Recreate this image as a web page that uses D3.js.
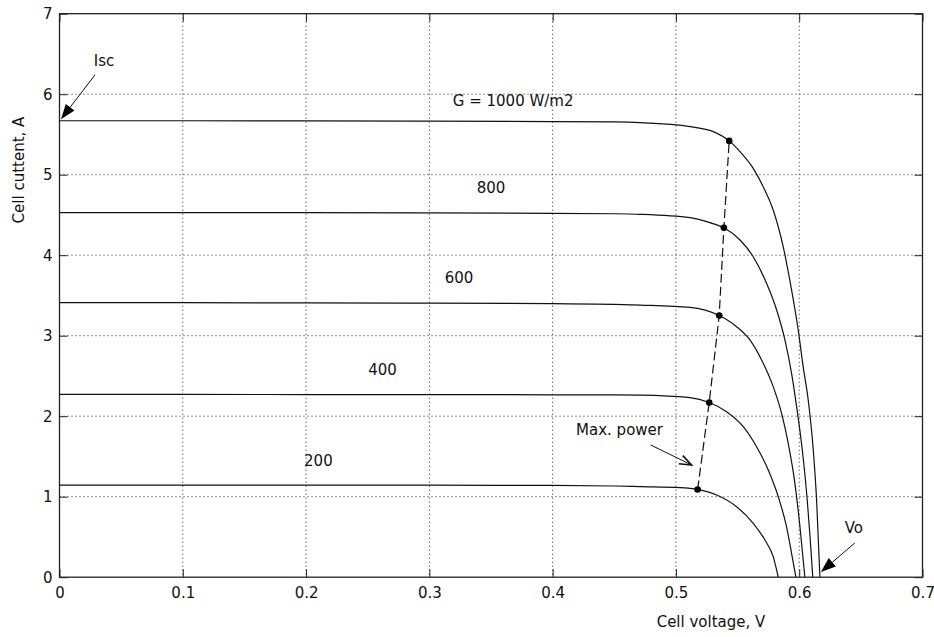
<!DOCTYPE html>
<html>
<head>
<meta charset="utf-8">
<script src="https://cdn.jsdelivr.net/npm/d3@7"></script>
<style>
  body { margin: 0; background: #fff; }
  text { font-family: "DejaVu Sans", sans-serif; font-size: 15px; fill: #111; }
</style>
</head>
<body>
<div id="chart"></div>
<script>
// I-V curves of a PV cell at different irradiance
const levels = ['200', '400', '600', '800', '1000'];

const v200  = [0, 0.1, 0.2, 0.3, 0.4, 0.45, 0.471, 0.5032, 0.5176, 0.533, 0.5492, 0.5627, 0.5722, 0.5789, 0.583];
const i200  = [1.145, 1.145, 1.144, 1.143, 1.14, 1.133, 1.125, 1.112, 1.09, 1.021, 0.876, 0.67, 0.462, 0.255, 0];

const v400  = [0, 0.1, 0.2, 0.3, 0.4, 0.45, 0.471, 0.5114, 0.527, 0.5411, 0.5546, 0.5654, 0.5749, 0.583, 0.5897, 0.5938, 0.5973];
const i400  = [2.27, 2.27, 2.269, 2.268, 2.266, 2.264, 2.261, 2.23, 2.17, 2.056, 1.87, 1.621, 1.332, 1.0, 0.627, 0.297, 0];

const v600  = [0, 0.1, 0.2, 0.3, 0.4, 0.45, 0.471, 0.5114, 0.5351, 0.5492, 0.56, 0.5708, 0.5789, 0.5857, 0.5911, 0.5965, 0.6006, 0.6046];
const i600  = [3.41, 3.41, 3.408, 3.405, 3.398, 3.39, 3.381, 3.352, 3.25, 3.112, 2.947, 2.657, 2.367, 2.036, 1.663, 1.166, 0.627, 0];

const v800  = [0, 0.1, 0.2, 0.3, 0.4, 0.45, 0.471, 0.5114, 0.5276, 0.5389, 0.552, 0.5627, 0.5735, 0.5817, 0.5884, 0.5938, 0.5979, 0.6025, 0.6065, 0.6088, 0.611];
const i800  = [4.53, 4.53, 4.528, 4.525, 4.52, 4.515, 4.508, 4.466, 4.404, 4.34, 4.189, 3.981, 3.651, 3.319, 2.947, 2.533, 2.118, 1.58, 0.959, 0.5, 0];

const v1000 = [0, 0.1, 0.2, 0.3, 0.4, 0.45, 0.471, 0.5114, 0.5303, 0.5432, 0.552, 0.5627, 0.5708, 0.5789, 0.587, 0.5938, 0.5992, 0.6032, 0.6073, 0.6114, 0.6141, 0.6168];
const i1000 = [5.67, 5.67, 5.668, 5.665, 5.66, 5.655, 5.646, 5.597, 5.535, 5.42, 5.286, 5.079, 4.851, 4.561, 4.106, 3.568, 3.071, 2.615, 2.201, 1.58, 0.959, 0];

// maximum power points
const mppV = [0.5176, 0.527, 0.5351, 0.5389, 0.5432];
const mppI = [1.09, 2.17, 3.25, 4.34, 5.42];

const xTicks = [0, 0.1, 0.2, 0.3, 0.4, 0.5, 0.6, 0.7];
const yTicks = [0, 1, 2, 3, 4, 5, 6, 7];

// curve labels: text, V, I (data units)
const curveLabels = [
    ['G = 1000 W/m2', 0.319, 5.853, 'start'],
    ['800', 0.35, 4.77, 'middle'],
    ['600', 0.324, 3.655, 'middle'],
    ['400', 0.262, 2.51, 'middle'],
    ['200', 0.21, 1.38, 'middle']
];

// arrows: label, label pos, arrow start, arrow tip, filled head
const arrows = [
    { text: 'Isc', tx: 0.0361, ty: 6.35, anchor: 'middle', from: [0.0288, 6.24], to: [0.0012, 5.69], filled: true },
    { text: 'Max. power', tx: 0.419, ty: 1.766, anchor: 'start', from: [0.4795, 1.643], to: [0.5127, 1.394], filled: false },
    { text: 'Vo', tx: 0.6443, ty: 0.55, anchor: 'middle', from: [0.6451, 0.425], to: [0.6176, 0.065], filled: true }
];

const series = [
    _zip(v200, i200), _zip(v400, i400), _zip(v600, i600), _zip(v800, i800), _zip(v1000, i1000)
];

function _zip(vs, is) {
    return vs.map((v, k) => ({ v: v, i: is[k] }));
}

const outerWidth = 934, outerHeight = 637;
const margin = { top: 13.7, left: 59.5, right: 11.5, bottom: 59.8 };
const width = outerWidth - margin.left - margin.right;
const height = outerHeight - margin.top - margin.bottom;

const svg = d3.select('#chart').append('svg')
    .attr('width', outerWidth)
    .attr('height', outerHeight);

const g = svg.append('g')
    .attr('transform', `translate(${margin.left}, ${margin.top})`);

const x = d3.scaleLinear().domain([0, 0.7]).range([0, width]);
const y = d3.scaleLinear().domain([0, 7]).range([height, 0]);

// dotted grid
g.append('g')
    .attr('class', 'grid')
    .selectAll('line.gx')
    .data(xTicks.slice(1, -1))
    .join('line')
    .attr('x1', d => x(d)).attr('x2', d => x(d))
    .attr('y1', 0).attr('y2', height);

g.select('.grid')
    .selectAll('line.gy')
    .data(yTicks.slice(1, -1))
    .join(enter => enter.append('line'))
    .attr('x1', 0).attr('x2', width)
    .attr('y1', d => y(d)).attr('y2', d => y(d));

g.selectAll('.grid line')
    .attr('stroke', '#222')
    .attr('stroke-width', 1)
    .attr('stroke-dasharray', '1,3');

// axes with inward ticks on all four sides
const fmt = d3.format('');
const gx = g.append('g').attr('transform', `translate(0, ${height})`)
    .call(d3.axisBottom(x).tickValues(xTicks).tickFormat(d => d === 0 ? '0' : fmt(d)).tickSizeInner(-8).tickSizeOuter(0).tickPadding(10));
const gy = g.append('g')
    .call(d3.axisLeft(y).tickValues(yTicks).tickFormat(d3.format('d')).tickSizeInner(-8).tickSizeOuter(0).tickPadding(7));
const gt = g.append('g')
    .call(d3.axisTop(x).tickValues(xTicks).tickFormat('').tickSizeInner(-8).tickSizeOuter(0));
const gr = g.append('g').attr('transform', `translate(${width}, 0)`)
    .call(d3.axisRight(y).tickValues(yTicks).tickFormat('').tickSizeInner(-8).tickSizeOuter(0));

[gx, gy, gt, gr].forEach(a => {
    a.select('.domain').remove();
    a.selectAll('line').attr('stroke', '#222');
    a.selectAll('text').attr('font-size', 15).attr('font-family', '"DejaVu Sans", sans-serif').attr('fill', '#111');
});

g.append('rect')
    .attr('x', 0).attr('y', 0)
    .attr('width', width).attr('height', height)
    .attr('fill', 'none')
    .attr('stroke', '#222')
    .attr('stroke-width', 1.3);

// the I-V curves
const line = d3.line()
    .x(d => x(d.v))
    .y(d => y(d.i))
    .curve(d3.curveMonotoneX);

g.append('g')
    .selectAll('path')
    .data(series)
    .join('path')
    .attr('d', line)
    .attr('fill', 'none')
    .attr('stroke', '#111')
    .attr('stroke-width', 1.2);

// max power locus
const mpp = mppV.map((v, k) => ({ v: v, i: mppI[k] }));

g.append('path')
    .datum(mpp)
    .attr('d', d3.line().x(d => x(d.v)).y(d => y(d.i)))
    .attr('fill', 'none')
    .attr('stroke', '#111')
    .attr('stroke-width', 1.2)
    .attr('stroke-dasharray', '9,4');

g.append('g')
    .selectAll('circle')
    .data(mpp)
    .join('circle')
    .attr('cx', d => x(d.v))
    .attr('cy', d => y(d.i))
    .attr('r', 3.3)
    .attr('fill', '#000');

// labels for the irradiance levels
g.append('g')
    .selectAll('text')
    .data(curveLabels)
    .join('text')
    .attr('x', d => x(d[1]))
    .attr('y', d => y(d[2]))
    .attr('text-anchor', d => d[3])
    .text(d => d[0]);

// annotation arrows
arrows.forEach(a => {
    let x0 = x(a.from[0]), y0 = y(a.from[1]);
    let x1 = x(a.to[0]), y1 = y(a.to[1]);
    let ang = Math.atan2(y1 - y0, x1 - x0);
    let len = a.filled ? 15 : 12;
    let half = a.filled ? 5.5 : 4.5;
    let bx = x1 - len * Math.cos(ang), by = y1 - len * Math.sin(ang);
    let px = -Math.sin(ang) * half, py = Math.cos(ang) * half;

    g.append('line')
        .attr('x1', x0).attr('y1', y0)
        .attr('x2', a.filled ? bx : x1).attr('y2', a.filled ? by : y1)
        .attr('stroke', '#111')
        .attr('stroke-width', 1);

    if (a.filled) {
        g.append('path')
            .attr('d', `M${x1},${y1}L${bx + px},${by + py}L${bx - px},${by - py}Z`)
            .attr('fill', '#000');
    } else {
        g.append('path')
            .attr('d', `M${bx + px},${by + py}L${x1},${y1}L${bx - px},${by - py}`)
            .attr('fill', 'none')
            .attr('stroke', '#111')
            .attr('stroke-width', 1.6);
    }

    g.append('text')
        .attr('x', x(a.tx))
        .attr('y', y(a.ty))
        .attr('text-anchor', a.anchor)
        .text(a.text);
});

// axis titles
svg.append('text')
    .attr('x', 711)
    .attr('y', 627)
    .attr('text-anchor', 'middle')
    .text('Cell voltage, V');

svg.append('text')
    .attr('transform', 'translate(24, 170) rotate(-90)')
    .attr('text-anchor', 'middle')
    .text('Cell cuttent, A');
</script>
</body>
</html>
